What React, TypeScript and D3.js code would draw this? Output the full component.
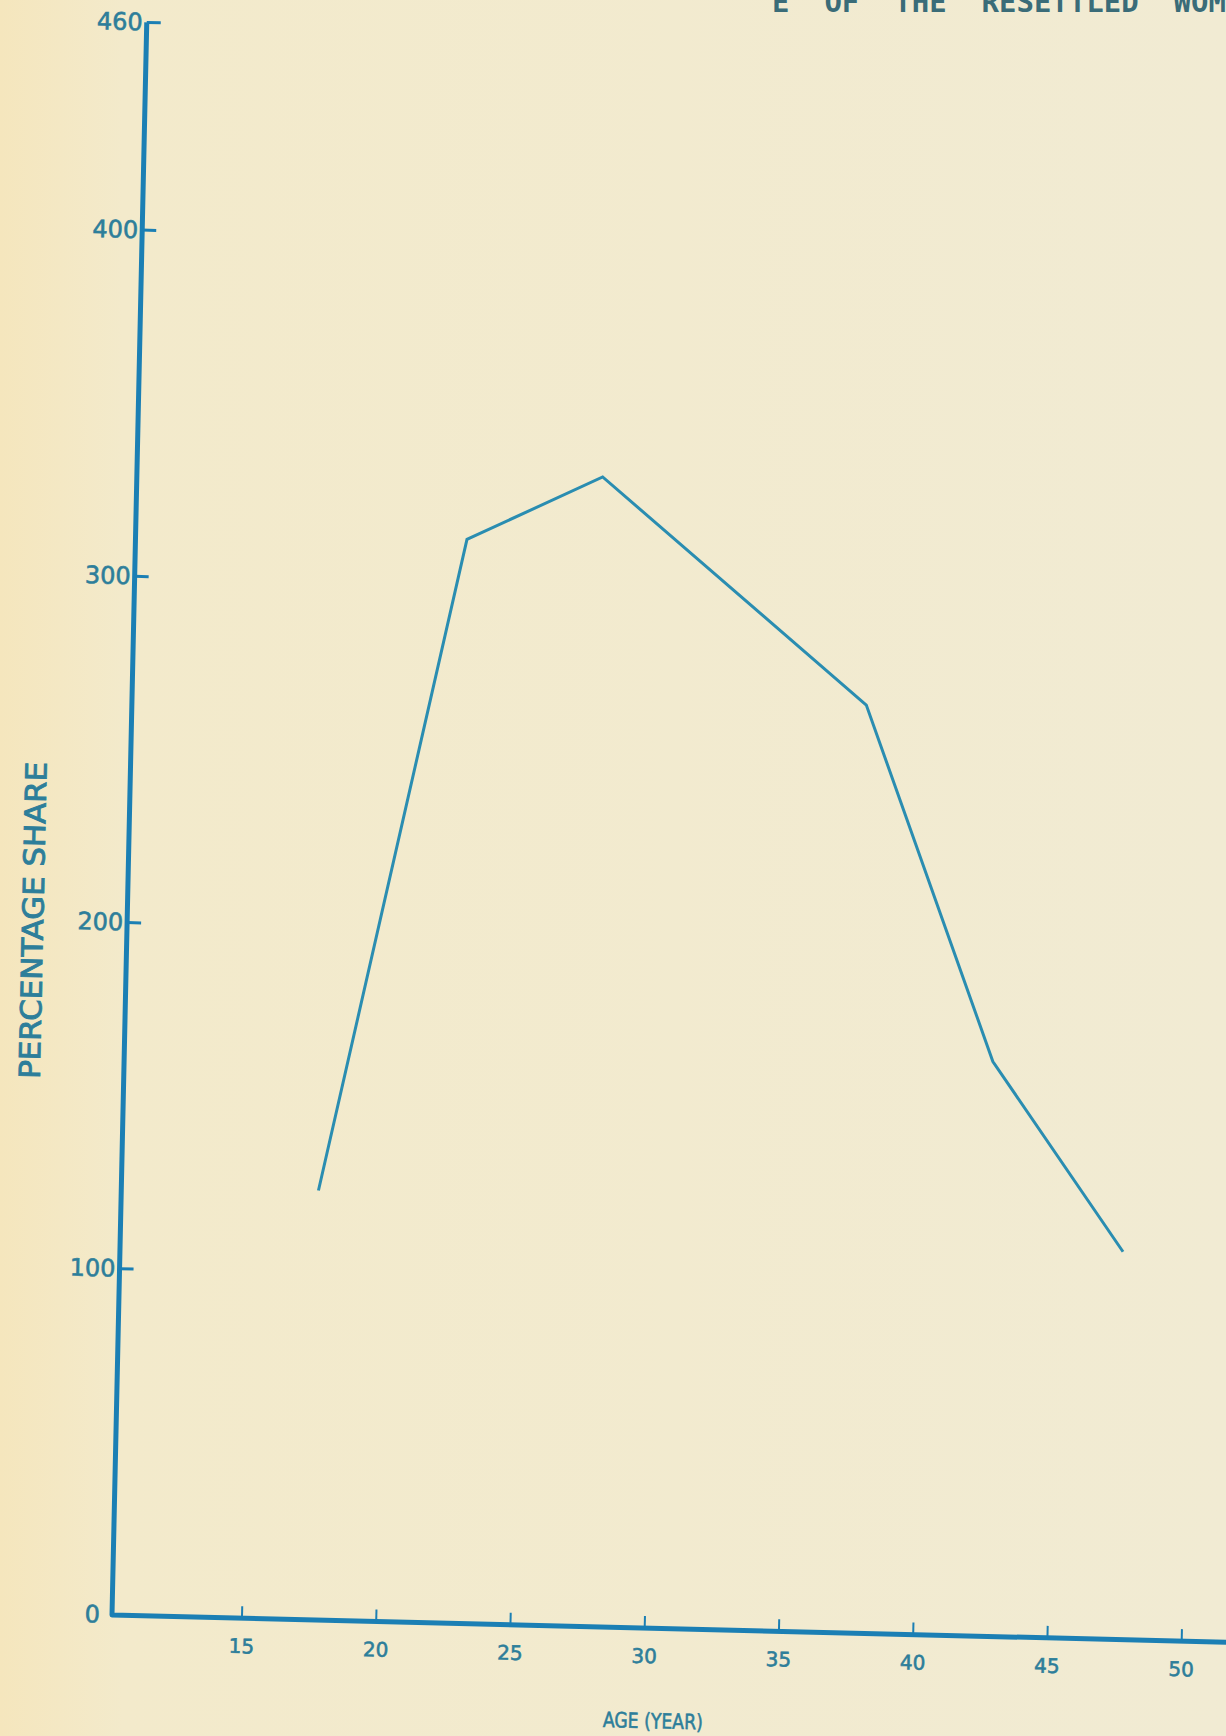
import { line, scaleLinear } from 'd3';

// age-specific fertility rates, resettled women
const ages = [17.5, 22.5, 27.5, 37.5, 42.5, 47.5];
const shares = [124, 313, 332, 268, 166, 112];
const xTicks = [15, 20, 25, 30, 35, 40, 45, 50];
const yTicks = [0, 100, 200, 300, 400, 460];

const width = 1226;
const height = 1736;
const origin = { x: 112, y: 1615 };
// the scanned drawing sits slightly askew
const xTilt = 1.4;
const yTilt = 1.25;

const axisColor = '#1b7fb4';
const lineColor = '#2a8db1';
const textColor = '#2d7e9a';
const font = "'DejaVu Sans', 'Noto Sans', sans-serif";

export default function App() {
  const xScale = scaleLinear().domain([15, 50]).range([130, 1070]);
  const yScale = scaleLinear().domain([0, 460]).range([0, -1593]);
  const xEnd = 1140;

  const rad = Math.PI / 180;
  const m = [
    Math.cos(xTilt * rad),
    Math.sin(xTilt * rad),
    -Math.sin(yTilt * rad),
    Math.cos(yTilt * rad),
    origin.x,
    origin.y,
  ];

  const path = line<number>()
    .x((_, i) => xScale(ages[i]))
    .y((d) => yScale(d))(shares);

  const lettering = {
    fontFamily: font,
    fill: textColor,
    stroke: textColor,
    strokeWidth: 0.6,
  };

  return (
    <svg
      width={width}
      height={height}
      viewBox={`0 0 ${width} ${height}`}
      style={{ position: 'absolute', top: 0, left: 0, display: 'block' }}
    >
      <defs>
        <linearGradient id="paper" x1="0" x2="1" y1="0" y2="0">
          <stop offset="0" stopColor="#f5e6bd" />
          <stop offset="0.1" stopColor="#f3eacb" />
          <stop offset="1" stopColor="#f1ebd3" />
        </linearGradient>
      </defs>
      <rect width={width} height={height} fill="url(#paper)" />

      {/* page title, cut off by the top edge of the scan */}
      <text
        x={772}
        y={12}
        fontFamily="'DejaVu Sans Mono', 'Liberation Mono', monospace"
        fontWeight="bold"
        fontSize={29}
        fill="#3a6c78"
        xmlSpace="preserve"
        style={{ whiteSpace: 'pre' }}
      >
        {'E  OF  THE  RESETTLED  WOMEN'}
      </text>

      <g transform={`matrix(${m.join(',')})`}>
        {/* axes */}
        <path
          d={`M0,${yScale(460)} L0,0 L${xEnd},0`}
          fill="none"
          stroke={axisColor}
          strokeWidth={5}
          strokeLinejoin="round"
        />
        {yTicks.map((t) => (
          <g key={`y${t}`}>
            <line
              x1={0}
              x2={t === 0 ? 0 : 14}
              y1={yScale(t)}
              y2={yScale(t)}
              stroke={axisColor}
              strokeWidth={3}
            />
            <text
              {...lettering}
              x={t === 0 ? -12 : -4}
              y={yScale(t) + 8}
              textAnchor="end"
              fontSize={24}
            >
              {t}
            </text>
          </g>
        ))}
        {xTicks.map((t) => (
          <g key={`x${t}`}>
            <line
              x1={xScale(t)}
              x2={xScale(t)}
              y1={0}
              y2={-12}
              stroke={axisColor}
              strokeWidth={2}
            />
            <text {...lettering} x={xScale(t)} y={35} textAnchor="middle" fontSize={20}>
              {t}
            </text>
          </g>
        ))}

        {/* rate curve */}
        <path d={path || ''} fill="none" stroke={lineColor} strokeWidth={3} strokeLinejoin="miter" />

        <text
          {...lettering}
          x={543}
          y={100}
          textAnchor="middle"
          fontSize={21}
          textLength={100}
          lengthAdjust="spacingAndGlyphs"
        >
          AGE (YEAR)
        </text>
        <text
          {...lettering}
          strokeWidth={0.9}
          transform={`translate(-84, ${yScale(200)}) rotate(-90)`}
          textAnchor="middle"
          fontSize={29}
          textLength={317}
          lengthAdjust="spacingAndGlyphs"
        >
          PERCENTAGE SHARE
        </text>
      </g>
    </svg>
  );
}
